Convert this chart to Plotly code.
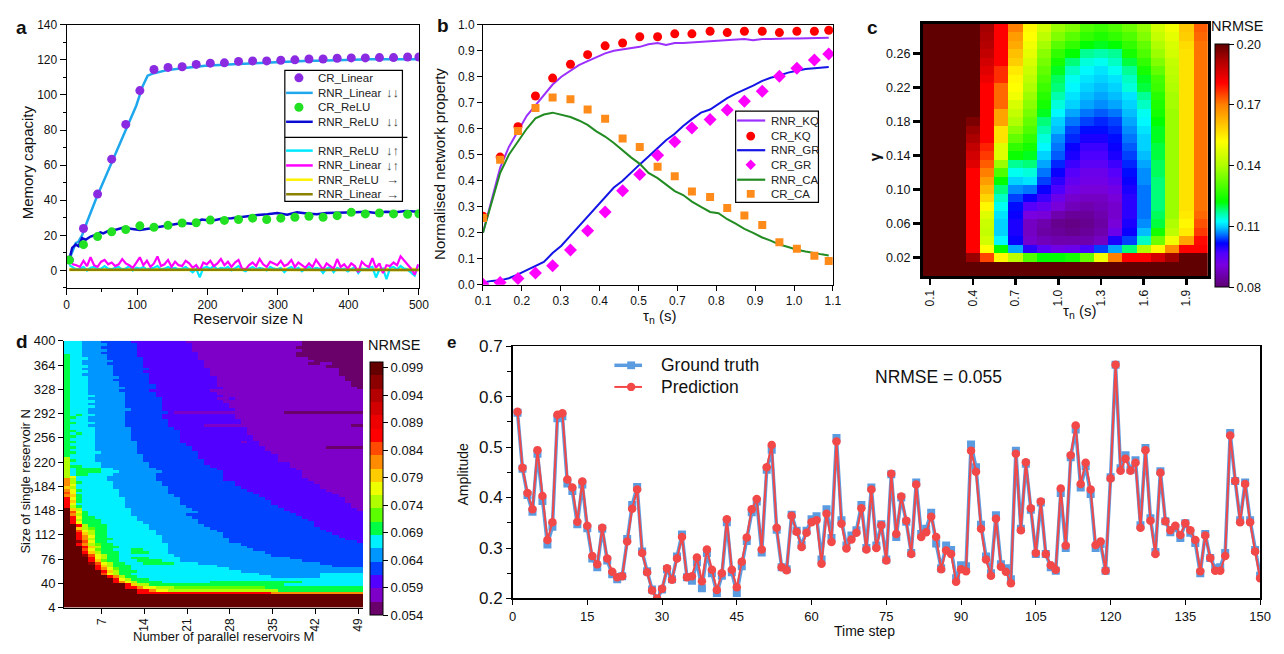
import plotly.graph_objects as go

# The page body keeps its default 8px margin, so the figure is drawn 16px smaller
# and all reference pixel positions are shifted by that margin.
OFF = 8
W, H = 1284 - 2 * OFF, 654 - 2 * OFF
def PX(x): return (x - OFF) / W
def PY(y): return 1 - (y - OFF) / H

FONT = "Liberation Sans, Arial, Helvetica, sans-serif"

# ---------------- Panel a data ----------------
N_cr = [4, 24, 44, 64, 84, 104, 124, 144, 164, 184, 204, 224, 244, 264, 284, 304, 324, 344, 364, 384, 404, 424, 444, 464, 484, 500]
mc_cr_linear = [6.0, 23.9, 43.5, 63.4, 83.2, 102.5, 114.5, 115.7, 116.1, 117.4, 118.1, 118.3, 119.1, 119.4, 119.4, 119.8, 120.0, 120.5, 120.5, 120.9, 121.1, 121.1, 121.3, 121.3, 121.6, 121.6]
mc_cr_relu = [5.9, 14.7, 19.3, 22.0, 23.3, 25.4, 24.6, 25.7, 27.0, 27.2, 28.7, 28.5, 29.0, 29.8, 29.0, 29.8, 30.3, 30.9, 30.3, 31.2, 33.1, 32.2, 32.7, 32.2, 32.0, 32.3]
N_rnr_lin = [4, 8, 13, 17, 22, 29, 43, 57, 71, 85, 99, 108, 115, 124, 141, 164, 197, 243, 290, 337, 383, 430, 500]
mc_rnr_linear = [6.4, 11.0, 15.6, 16.5, 20.0, 27.6, 42.0, 55.0, 68.0, 81.0, 94.0, 105.0, 111.0, 112.4, 114.0, 115.2, 116.7, 117.6, 118.5, 119.4, 119.8, 120.3, 120.3]
N_rnr_relu = [4, 8, 13, 17, 22, 27, 34, 41, 48, 52, 62, 71, 80, 90, 104, 118, 132, 150, 164, 178, 192, 206, 220, 234, 243, 257, 271, 285, 299, 313, 327, 341, 355, 369, 383, 397, 411, 425, 439, 453, 467, 481, 500]
mc_rnr_relu = [6.4, 12.9, 14.7, 13.8, 18.4, 17.5, 19.3, 20.2, 21.7, 21.1, 23.0, 23.3, 24.3, 23.9, 23.0, 23.9, 24.8, 26.1, 27.0, 26.6, 29.0, 28.3, 29.4, 29.8, 30.3, 30.9, 31.6, 32.0, 32.7, 31.8, 33.1, 32.5, 32.0, 32.7, 32.7, 33.1, 33.1, 33.4, 32.7, 33.4, 33.1, 33.8, 33.4]
N_noise = list(range(4, 500, 5))
mc_rnr_linear_ud = [6.0, 3.5, 3.0, 2.0, 5.5, 2.5, 7.5, 3.0, 2.0, 5.0,
                    6.0, 3.5, 4.5, 2.5, 3.5, 6.5, 4.0, 3.0, 1.5, 4.5,
                    7.5, 3.0, 5.5, 2.0, 4.0, 8.0, 2.5, 3.5, 6.0, 2.0,
                    5.0, 3.0, 2.5, 5.5, 4.0, 1.5, 3.0, 0.0, 4.5, 3.5,
                    5.5, 2.5, 4.0, 6.5, 3.0, 5.0, 2.0, 4.5, 6.0, 1.0,
                    0.5, 3.0, 4.5, 2.5, 6.5, 3.5, 2.0, 5.0, 4.0, 3.0,
                    5.5, 2.5, 3.5, 6.0, 2.0, 4.5, 3.0, 1.5, 4.0, 2.0,
                    6.0, 3.0, 0.5, 4.0, 2.5, 1.0, 6.5, 2.0, 3.5, 1.0,
                    4.0, 2.5, -1.0, 5.0, 3.0, 2.0, 7.0, 1.5, 4.0, -1.5,
                    3.0, 2.5, 4.5, 3.0, 8.0, 5.5, 3.0, 1.0, -2.5, 3.5]
mc_rnr_relu_ud = [3.0, 1.5, 0.5, 1.0, 2.0, 0.0, 1.5, 2.0, 0.5, 1.0,
                  2.5, 1.0, 0.5, 1.5, 2.0, 0.5, 1.0, 2.5, 0.0, 1.5,
                  1.0, 2.0, 0.5, 1.0, 1.5, 2.5, 0.5, 1.0, 2.0, 1.0,
                  1.5, 0.5, 1.0, 2.0, 0.5, -1.0, 1.0, -4.0, 1.5, 2.0,
                  1.0, 2.5, 0.5, 1.5, 1.0, 2.0, 0.0, 1.5, 2.5, 0.5,
                  -0.5, 1.0, 2.0, 0.5, 1.5, 1.0, 0.0, 2.0, 1.0, 0.5,
                  1.5, -1.0, 1.0, 2.0, 0.5, 1.5, -0.5, 1.0, 2.0, 0.5,
                  1.5, 1.0, -1.5, 1.0, 2.0, -1.0, 1.5, 0.5, 1.0, -0.5,
                  1.0, 2.0, -1.5, 1.0, 0.5, 1.5, 2.0, -4.0, 0.5, 1.0,
                  -5.0, 1.5, 2.0, 0.5, 2.5, 1.0, 0.5, -1.0, -3.0, 3.0]
N_flat = [4, 100, 200, 300, 400, 500]
mc_rnr_relu_flat = [0.6, 0.5, 0.5, 0.5, 0.5, 0.5]
mc_rnr_linear_flat = [0.4, 0.3, 0.3, 0.3, 0.3, 0.3]

# ---------------- Panel b data ----------------
tau_b_ticktext = ["0.1", "0.2", "0.3", "0.4", "0.5", "0.7", "0.8", "0.9", "1.0", "1.1"]
tau_cr = [0.100, 0.149, 0.200, 0.250, 0.299, 0.350, 0.399, 0.449, 0.499, 0.548, 0.599, 0.648, 0.697, 0.749, 0.798, 0.847, 0.898, 0.947, 0.997, 1.047, 1.088]
cr_kq = [0.264, 0.491, 0.608, 0.726, 0.795, 0.848, 0.885, 0.919, 0.930, 0.954, 0.954, 0.965, 0.965, 0.975, 0.970, 0.975, 0.975, 0.970, 0.975, 0.975, 0.979]
cr_ca = [0.257, 0.481, 0.591, 0.680, 0.720, 0.714, 0.674, 0.639, 0.563, 0.530, 0.454, 0.417, 0.359, 0.338, 0.295, 0.266, 0.230, 0.164, 0.139, 0.112, 0.091]
cr_gr = [0.002, 0.009, 0.024, 0.045, 0.073, 0.134, 0.208, 0.280, 0.362, 0.424, 0.498, 0.550, 0.603, 0.636, 0.672, 0.706, 0.744, 0.802, 0.833, 0.864, 0.888]
tau_rnr = [0.100, 0.125, 0.149, 0.174, 0.200, 0.225, 0.250, 0.274, 0.299, 0.324, 0.350, 0.374, 0.399, 0.424, 0.449, 0.474, 0.499, 0.523, 0.548, 0.573, 0.599, 0.623, 0.648, 0.672, 0.697, 0.723, 0.749, 0.773, 0.798, 0.822, 0.847, 0.872, 0.898, 0.922, 0.947, 0.972, 0.997, 1.022, 1.047, 1.068, 1.088]
rnr_kq = [0.20, 0.33, 0.45, 0.53, 0.59, 0.65, 0.69, 0.73, 0.77, 0.80, 0.825, 0.845, 0.86, 0.875, 0.89, 0.90, 0.905, 0.91, 0.915, 0.925, 0.93, 0.922, 0.93, 0.93, 0.932, 0.935, 0.937, 0.94, 0.94, 0.943, 0.945, 0.94, 0.945, 0.945, 0.947, 0.947, 0.947, 0.948, 0.948, 0.948, 0.95]
rnr_gr = [0.009, 0.015, 0.017, 0.025, 0.040, 0.057, 0.071, 0.088, 0.122, 0.150, 0.189, 0.225, 0.264, 0.301, 0.338, 0.374, 0.400, 0.432, 0.463, 0.493, 0.525, 0.556, 0.581, 0.611, 0.637, 0.662, 0.674, 0.695, 0.718, 0.735, 0.749, 0.766, 0.784, 0.796, 0.805, 0.816, 0.823, 0.830, 0.833, 0.836, 0.838]
rnr_ca = [0.20, 0.32, 0.43, 0.50, 0.55, 0.60, 0.64, 0.655, 0.662, 0.655, 0.645, 0.632, 0.615, 0.59, 0.57, 0.545, 0.515, 0.49, 0.465, 0.43, 0.41, 0.385, 0.36, 0.345, 0.32, 0.30, 0.28, 0.275, 0.252, 0.235, 0.215, 0.20, 0.182, 0.17, 0.155, 0.145, 0.135, 0.128, 0.121, 0.117, 0.113]

# ---------------- Panel c data ----------------
tau_c = [0.1, 0.2, 0.3, 0.4, 0.5, 0.6, 0.7, 0.8, 0.9, 1.0, 1.1, 1.2, 1.3, 1.4, 1.5, 1.6, 1.7, 1.8, 1.9, 2.0]
gamma_c = [0.29, 0.28, 0.27, 0.26, 0.25, 0.24, 0.23, 0.22, 0.21, 0.20, 0.19, 0.18, 0.17, 0.16, 0.15,
           0.14, 0.13, 0.12, 0.11, 0.10, 0.09, 0.08, 0.07, 0.06, 0.05, 0.04, 0.03, 0.02, 0.01, 0.00]
# one list per tau column, rows from gamma 0.29 down to 0.00
nrmse_c_cols = [
    [.205, .205, .205, .205, .205, .205, .205, .205, .205, .205, .205, .205, .205, .205, .205, .205, .205, .205, .205, .205, .205, .205, .205, .205, .205, .205, .205, .205, .205, .205],
    [.205, .205, .205, .205, .205, .205, .205, .205, .205, .205, .205, .205, .205, .205, .205, .205, .205, .205, .205, .205, .205, .205, .205, .205, .205, .205, .205, .205, .205, .205],
    [.205, .205, .205, .205, .205, .205, .205, .205, .205, .205, .205, .205, .205, .205, .205, .205, .205, .205, .205, .205, .205, .205, .205, .205, .205, .205, .205, .205, .205, .205],
    [.205, .205, .205, .205, .205, .205, .205, .205, .205, .205, .205, .197, .194, .192, .189, .187, .185, .181, .181, .181, .181, .181, .181, .181, .181, .181, .181, .194, .205, .205],
    [.193, .192, .191, .189, .187, .185, .183, .181, .181, .181, .181, .181, .181, .181, .178, .176, .173, .170, .166, .162, .158, .153, .147, .144, .143, .145, .152, .175, .205, .205],
    [.181, .181, .181, .181, .181, .177, .177, .172, .172, .172, .165, .165, .156, .156, .147, .147, .138, .130, .122, .118, .115, .113, .111, .110, .110, .112, .122, .153, .205, .205],
    [.170, .166, .164, .161, .159, .155, .153, .152, .150, .146, .143, .140, .136, .132, .127, .123, .117, .113, .110, .107, .104, .102, .101, .100, .100, .101, .108, .142, .205, .205],
    [.153, .152, .150, .148, .146, .144, .142, .140, .138, .136, .134, .132, .130, .127, .124, .121, .118, .114, .111, .106, .101, .096, .091, .088, .088, .089, .099, .130, .205, .205],
    [.145, .142, .139, .136, .134, .132, .130, .128, .126, .124, .121, .118, .116, .114, .112, .110, .108, .106, .104, .101, .098, .094, .090, .086, .085, .087, .095, .122, .205, .205],
    [.138, .135, .131, .127, .124, .121, .119, .118, .116, .114, .112, .110, .109, .107, .106, .105, .103, .101, .099, .097, .093, .090, .086, .083, .084, .086, .092, .122, .205, .205],
    [.135, .131, .127, .122, .118, .115, .113, .112, .111, .110, .108, .106, .104, .103, .101, .100, .098, .096, .094, .092, .089, .087, .084, .082, .083, .086, .093, .124, .205, .205],
    [.130, .127, .122, .117, .114, .112, .111, .110, .109, .108, .106, .104, .102, .100, .098, .097, .095, .093, .092, .090, .088, .086, .084, .083, .084, .086, .097, .132, .205, .205],
    [.128, .125, .121, .116, .113, .111, .110, .109, .108, .107, .105, .103, .102, .100, .098, .097, .095, .093, .092, .090, .088, .087, .086, .085, .086, .088, .104, .150, .205, .205],
    [.130, .127, .122, .117, .115, .113, .111, .110, .109, .108, .106, .104, .103, .102, .101, .100, .098, .096, .094, .092, .090, .089, .089, .090, .093, .100, .108, .170, .205, .205],
    [.133, .130, .127, .124, .120, .117, .115, .114, .111, .110, .109, .108, .107, .106, .105, .104, .103, .102, .101, .100, .099, .099, .099, .100, .101, .104, .118, .181, .205, .205],
    [.137, .135, .132, .130, .127, .124, .121, .120, .117, .115, .113, .112, .111, .110, .110, .109, .108, .107, .107, .106, .106, .106, .106, .107, .109, .115, .140, .181, .205, .205],
    [.145, .143, .140, .138, .135, .132, .129, .128, .126, .125, .124, .122, .121, .121, .120, .120, .119, .119, .118, .118, .118, .118, .119, .120, .124, .133, .153, .187, .205, .205],
    [.150, .148, .146, .145, .143, .142, .141, .140, .139, .139, .138, .138, .138, .138, .138, .138, .138, .138, .138, .138, .138, .138, .138, .140, .142, .150, .168, .193, .205, .205],
    [.160, .159, .157, .156, .156, .156, .156, .156, .156, .156, .156, .156, .156, .156, .156, .156, .156, .156, .156, .156, .156, .156, .155, .153, .155, .165, .181, .200, .205, .205],
    [.173, .172, .171, .171, .171, .171, .171, .171, .171, .171, .171, .171, .171, .171, .171, .171, .171, .171, .171, .171, .171, .171, .172, .174, .176, .180, .181, .200, .205, .205],
]
c_ticks = [0.08, 0.11, 0.14, 0.17, 0.20]

# ---------------- Panel d data ----------------
# NRMSE level bands, run-length encoded along M = 1..49 for each reservoir size N (row start)
d_levels = "DPVBACGgYyOorRSTUWM"   # 19 bands from 0.054 (D) up to 0.100 (M)
d_rows = {
    396: "C3 A3 B5 V9 P19 D10", 392: "C3 A4 B5 V9 P18 D10", 388: "C3 A3 B6 V9 P17 D11",
    384: "C3 A4 B5 V9 P18 D10", 380: "C3 A3 B6 V10 P16 D11", 376: "G1 C2 A4 B5 V10 P16 D11",
    372: "G1 C3 A3 B6 V9 P18 D9", 368: "G1 C2 A5 B5 V10 P18 D8", 364: "G1 C2 A4 B6 V10 P17 D2 P2 D5",
    360: "G1 C3 A4 B5 V10 P20 D6", 356: "G1 C2 A5 B6 V10 P21 D4", 352: "G1 C3 A4 B5 V11 P21 D4",
    348: "G1 C2 A5 B6 V10 P21 D4", 344: "G1 C3 A5 B5 V11 P21 D3", 340: "G1 C3 A4 B6 V11 P21 D3",
    336: "G1 C3 A5 B5 V11 P22 D2", 332: "G1 C3 A5 B6 V10 P22 D2", 328: "G1 C3 A6 B5 V11 P22 D1",
    324: "G1 C3 A5 B5 V10 P25", 320: "G1 C3 A6 B5 V10 P24", 316: "G1 C4 A5 B5 V11 P23",
    312: "G1 C3 A6 B6 V9 P2 V1 P21", 308: "G1 C4 A5 B6 V10 P23", 304: "G1 C3 A6 B6 V11 P22",
    300: "G1 C4 A5 B6 V11 P22", 296: "G1 C3 A7 B5 V12 P21", 292: "G1 C3 A6 B7 V1 P18 D13",
    288: "G1 C1 G1 C2 A5 B6 V12 P21", 284: "G2 C2 A6 B6 V12 P21", 280: "G1 C3 A6 B7 V12 P20",
    276: "G2 C3 A5 B7 V12 P20", 272: "G1 C3 A6 B7 V6 P24 D2", 268: "G1 C4 A6 B7 V12 P19",
    264: "G2 C3 A6 B8 V11 P19", 260: "G1 C1 G1 C2 A6 B8 V11 P19", 256: "G2 C3 A6 B8 V12 P18",
    252: "G1 C4 A6 B8 V12 P18", 248: "G2 C3 A7 B7 V10 P1 V2 P17", 244: "G1 C4 A7 B8 V12 P17",
    240: "G2 C3 A7 B9 V12 P10 D6", 236: "G1 C4 A7 B9 V12 P16", 232: "G2 C4 A6 B10 V12 P15",
    228: "G1 C4 A8 B9 V13 P14", 224: "Y1 C4 A8 B9 V13 P14", 220: "Y1 G1 C3 A8 B10 V12 P14",
    216: "Y1 C5 A8 B9 V14 P12", 212: "Y1 G2 C3 A8 B10 V13 P12", 208: "Y1 C1 G4 C2 A7 B10 V13 P11",
    204: "Y1 C1 G4 C3 A7 B10 V13 P10", 200: "Y1 C1 G2 C4 A7 B11 V13 P10", 196: "Y1 y1 C5 A8 B11 V13 P10",
    192: "o1 Y1 C5 A8 B11 V14 P9", 188: "o1 Y1 G1 C5 A8 B12 V13 P8", 184: "o1 y1 C6 A8 B12 V14 P7",
    180: "O1 Y1 C6 A9 B12 V13 P7", 176: "o1 y1 G1 C6 A8 B13 V13 P6", 172: "r1 y1 C7 A8 B14 V13 P5",
    168: "o1 O1 G1 C6 A9 B14 V13 P4", 164: "R1 y1 G1 C7 A9 B14 V13 P3", 160: "R1 O1 G1 C7 A9 B15 V12 P3",
    156: "R1 y1 C8 A9 B15 V13 P2", 152: "R1 Y1 G1 C7 A10 B15 V12 P2", 148: "M1 O1 Y1 C8 A10 B15 V12 P1",
    144: "M1 r1 y1 G1 C7 A11 B15 V12", 140: "M1 o1 Y1 G1 C7 A9 B18 V11", 136: "M1 R1 y1 G2 C7 A9 B18 V10",
    132: "M1 R1 Y1 G3 C6 A10 B18 V9", 128: "M1 R1 y1 G3 C7 A9 B19 V8", 124: "M2 R1 Y1 G3 C7 A9 B18 V8",
    120: "M2 O1 Y1 g1 G2 C7 A10 B18 V7", 116: "M2 r1 y1 Y1 G2 C8 A10 B18 V6", 112: "M2 R1 O1 Y1 G2 C8 A11 B18 V5",
    108: "M2 R1 o1 y1 G2 C9 A10 B19 V4", 104: "M2 R1 o1 Y1 G3 C8 A11 B19 V3", 100: "M2 W1 r1 y1 G2 C9 A11 B21 V1",
    96: "M2 R1 o1 Y1 g1 G2 C9 A12 B20", 92: "M3 R1 O1 Y1 G3 C8 A13 B19", 88: "M3 r1 y1 g1 G2 C3 G2 C4 A14 B18",
    84: "M3 R1 O1 Y1 G3 C2 G3 C3 A16 B16", 80: "M3 W1 r1 y1 Y1 G2 C9 A16 B15", 76: "M4 R1 y1 Y1 G2 C2 G3 C5 A18 B12",
    72: "M4 R1 O1 g1 G2 C3 G4 C3 A20 B10", 68: "M4 W1 r1 y1 Y1 G2 C3 G5 C4 A20 B7", 64: "M5 R1 O1 Y1 G3 C14 A19 B5",
    60: "M5 R1 o1 y1 g1 G2 C16 A22", 56: "M6 R1 O1 Y1 G3 C17 A20", 52: "M6 r1 y1 Y1 G2 C21 A10 C7",
    48: "M7 R1 o1 Y1 G2 C22 A8 C7", 44: "M8 R1 y1 Y1 G3 C35", 40: "M8 R1 o1 y1 Y1 G4 C8 G15 C10",
    36: "M10 R1 O1 Y2 G22 C13", 32: "M10 R2 o1 y2 Y3 g15 G16", 28: "M12 R2 o1 y2 Y18 G14",
    24: "M12 R22 o15", 20: "M49", 16: "M49", 12: "M49", 8: "M49", 4: "M49",
}
d_colors = ["#6a006a", "#7e00c8", "#5200ff", "#0042ff", "#0096ff", "#00f0ff", "#00ff44", "#5cff00",
            "#b0ff00", "#eeff00", "#ffcc00", "#ff8c00", "#ff4a00", "#ff0000", "#ee0000", "#d20000",
            "#b40000", "#8c0000", "#640000"]
d_ticks = [0.054, 0.059, 0.064, 0.069, 0.074, 0.079, 0.084, 0.089, 0.094, 0.099]
d_zmin, d_zmax = 0.054, 0.100

# ---------------- Panel e data ----------------
t_e = list(range(1, 151))
pred_e = [0.570, 0.459, 0.409, 0.377, 0.494, 0.403, 0.316, 0.351, 0.564, 0.567,
          0.436, 0.420, 0.352, 0.432, 0.344, 0.284, 0.268, 0.340, 0.279, 0.253,
          0.242, 0.244, 0.313, 0.378, 0.416, 0.290, 0.252, 0.216, 0.200, 0.219,
          0.260, 0.237, 0.279, 0.322, 0.242, 0.244, 0.281, 0.234, 0.297, 0.257,
          0.217, 0.250, 0.357, 0.257, 0.222, 0.273, 0.321, 0.377, 0.397, 0.297,
          0.460, 0.504, 0.340, 0.262, 0.256, 0.364, 0.332, 0.302, 0.330, 0.351,
          0.355, 0.269, 0.368, 0.312, 0.511, 0.348, 0.299, 0.317, 0.330, 0.379,
          0.297, 0.416, 0.300, 0.345, 0.275, 0.447, 0.328, 0.402, 0.354, 0.288,
          0.426, 0.322, 0.331, 0.362, 0.322, 0.258, 0.295, 0.288, 0.233, 0.258,
          0.254, 0.493, 0.451, 0.338, 0.277, 0.245, 0.358, 0.263, 0.253, 0.230,
          0.487, 0.335, 0.470, 0.379, 0.290, 0.392, 0.288, 0.266, 0.257, 0.418,
          0.305, 0.484, 0.543, 0.427, 0.469, 0.416, 0.306, 0.313, 0.255, 0.438,
          0.663, 0.453, 0.477, 0.453, 0.469, 0.340, 0.494, 0.354, 0.288, 0.449,
          0.353, 0.335, 0.344, 0.326, 0.349, 0.335, 0.316, 0.254, 0.325, 0.280,
          0.255, 0.255, 0.284, 0.523, 0.433, 0.351, 0.427, 0.351, 0.293, 0.240]
truth_e = [0.568, 0.457, 0.405, 0.372, 0.487, 0.393, 0.307, 0.342, 0.557, 0.561,
           0.428, 0.413, 0.347, 0.426, 0.339, 0.279, 0.262, 0.338, 0.275, 0.248,
           0.238, 0.244, 0.318, 0.385, 0.421, 0.293, 0.254, 0.218, 0.198, 0.218,
           0.258, 0.238, 0.283, 0.327, 0.242, 0.235, 0.272, 0.220, 0.290, 0.250,
           0.211, 0.245, 0.351, 0.252, 0.211, 0.264, 0.314, 0.371, 0.392, 0.291,
           0.455, 0.495, 0.336, 0.262, 0.258, 0.366, 0.334, 0.306, 0.334, 0.357,
           0.363, 0.277, 0.377, 0.320, 0.518, 0.355, 0.305, 0.325, 0.335, 0.385,
           0.300, 0.420, 0.305, 0.347, 0.277, 0.446, 0.322, 0.400, 0.352, 0.290,
           0.430, 0.328, 0.338, 0.370, 0.309, 0.260, 0.305, 0.296, 0.240, 0.266,
           0.264, 0.505, 0.460, 0.346, 0.283, 0.250, 0.365, 0.268, 0.260, 0.238,
           0.493, 0.338, 0.467, 0.376, 0.288, 0.390, 0.288, 0.262, 0.255, 0.409,
           0.300, 0.480, 0.535, 0.420, 0.462, 0.407, 0.300, 0.308, 0.255, 0.440,
           0.663, 0.458, 0.484, 0.455, 0.474, 0.345, 0.498, 0.359, 0.292, 0.452,
           0.353, 0.331, 0.340, 0.320, 0.349, 0.330, 0.310, 0.250, 0.328, 0.280,
           0.260, 0.262, 0.290, 0.528, 0.433, 0.355, 0.430, 0.355, 0.296, 0.245]

# ======================================================================
fig = go.Figure()

# ---- panel a
def add_a(x, y, **kw):
    fig.add_trace(go.Scatter(x=x, y=y, xaxis="x", yaxis="y", showlegend=False, **kw))

add_a(N_flat, mc_rnr_relu_flat, mode="lines", line=dict(color="#fff200", width=3.5))
add_a(N_noise, mc_rnr_relu_ud, mode="lines", line=dict(color="#00e8ff", width=2.2))
add_a(N_noise, mc_rnr_linear_ud, mode="lines", line=dict(color="#ff00ff", width=2.2))
add_a(N_flat, mc_rnr_linear_flat, mode="lines", line=dict(color="#8c8200", width=2.5))
add_a(N_rnr_lin, mc_rnr_linear, mode="lines", line=dict(color="#1ea7ec", width=2.5))
add_a(N_rnr_relu, mc_rnr_relu, mode="lines", line=dict(color="#0a0ad2", width=2.5))
add_a(N_cr, mc_cr_linear, mode="markers", marker=dict(color="#8a2be2", size=9))
add_a(N_cr, mc_cr_relu, mode="markers", marker=dict(color="#22e022", size=9))

# ---- panel b
def add_b(x, y, **kw):
    fig.add_trace(go.Scatter(x=x, y=y, xaxis="x2", yaxis="y2", showlegend=False, **kw))

add_b(tau_rnr, rnr_kq, mode="lines", line=dict(color="#9b30ff", width=2))
add_b(tau_rnr, rnr_gr, mode="lines", line=dict(color="#1414e6", width=2))
add_b(tau_rnr, rnr_ca, mode="lines", line=dict(color="#228b22", width=2))
add_b(tau_cr, cr_kq, mode="markers", marker=dict(color="#ff0000", size=9))
add_b(tau_cr, cr_gr, mode="markers", marker=dict(color="#ff00ff", size=10, symbol="diamond"))
add_b(tau_cr, cr_ca, mode="markers", marker=dict(color="#ff8c1a", size=8, symbol="square"))

# ---- panel c
z_c = [list(r) for r in zip(*nrmse_c_cols)]
c_scale = [[0.0, "#5e0070"], [0.09, "#7a00e0"], [0.14, "#5000ff"], [0.18, "#0000ff"],
           [0.215, "#0070ff"], [0.245, "#00c8ff"], [0.27, "#00ffff"], [0.31, "#00ff90"], [0.35, "#00ff00"],
           [0.50, "#b0ff00"], [0.60, "#ffff00"], [0.75, "#ff8000"], [0.84, "#ff0000"],
           [0.93, "#b00000"], [1.0, "#600000"]]
fig.add_trace(go.Heatmap(
    x=tau_c, y=gamma_c, z=z_c, xaxis="x3", yaxis="y3", zmin=0.08, zmax=0.20,
    colorscale=c_scale, showscale=True,
    colorbar=dict(x=PX(1224), xanchor="left", y=PY(36), yanchor="top",
                  len=243, lenmode="pixels", thickness=14, xpad=0, ypad=0,
                  outlinewidth=1, outlinecolor="black", ticks="outside", ticklen=5,
                  tickcolor="black", tickvals=c_ticks, ticktext=["%.2f" % v for v in c_ticks],
                  tickfont=dict(family=FONT, size=12.5, color="#111"))))

# ---- panel d
lev_index = {ch: i for i, ch in enumerate(d_levels)}
band = (d_zmax - d_zmin) / len(d_levels)
N_rows = sorted(d_rows.keys())
z_d = []
for n in N_rows:
    row = []
    for tok in d_rows[n].split():
        row += [lev_index[tok[0]]] * int(tok[1:])
    row = (row + [row[-1]] * 49)[:49]
    z_d.append([d_zmin + (i + 0.5) * band for i in row])
d_scale = []
for i, col in enumerate(d_colors):
    d_scale.append([i / len(d_colors), col])
    d_scale.append([(i + 1) / len(d_colors), col])
fig.add_trace(go.Heatmap(
    z=z_d, x0=1.3, dx=1, y0=N_rows[0] + 2, dy=4, xaxis="x4", yaxis="y4",
    zmin=d_zmin, zmax=d_zmax, colorscale=d_scale, showscale=True,
    colorbar=dict(x=PX(367.3), xanchor="left", y=PY(364), yanchor="top",
                  len=253, lenmode="pixels", thickness=13, xpad=0, ypad=0,
                  outlinewidth=1, outlinecolor="black", ticks="outside", ticklen=5,
                  tickcolor="black", tickvals=d_ticks, ticktext=["%.3f" % v for v in d_ticks],
                  tickfont=dict(family=FONT, size=13, color="#111"))))

# ---- panel e
fig.add_trace(go.Scatter(x=t_e, y=truth_e, xaxis="x5", yaxis="y5", mode="lines+markers", showlegend=False,
                         line=dict(color="#5b9be0", width=3.5),
                         marker=dict(symbol="square", size=8, color="#5b9be0")))
fig.add_trace(go.Scatter(x=t_e, y=pred_e, xaxis="x5", yaxis="y5", mode="lines+markers", showlegend=False,
                         line=dict(color="#f24848", width=2),
                         marker=dict(symbol="circle", size=8.5, color="#f24848")))

# ======================================================================
tickfont = dict(family=FONT, size=12, color="#111")
base_ax = dict(showgrid=False, zeroline=False, showline=True, linecolor="black", linewidth=1,
               ticks="outside", tickcolor="black", tickfont=tickfont)

fig.update_layout(
    width=W, height=H, margin=dict(l=0, r=0, t=0, b=0), autosize=False,
    paper_bgcolor="white", plot_bgcolor="white", showlegend=False, hovermode=False,
    font=dict(family=FONT, color="#111"),
    xaxis=dict(base_ax, domain=[PX(59.3), PX(416.7)], range=[0, 500], anchor="y", mirror=True,
               tickvals=[0, 100, 200, 300, 400, 500], ticklen=6,
               minor=dict(dtick=50, ticks="outside", ticklen=3, tickcolor="black")),
    yaxis=dict(base_ax, domain=[PY(287.3), PY(16)], range=[-10, 140], anchor="x", mirror=True,
               tickvals=[0, 20, 40, 60, 80, 100, 120, 140], ticklen=6,
               minor=dict(dtick=10, ticks="outside", ticklen=3, tickcolor="black")),
    xaxis2=dict(base_ax, domain=[PX(481.7), PX(836.7)], range=[0.1, 1.1], anchor="y2", mirror=True,
                tickvals=[0.1 + k / 9 for k in range(10)], ticktext=tau_b_ticktext, ticklen=5),
    yaxis2=dict(base_ax, domain=[PY(284), PY(16)], range=[0, 1.0], anchor="x2", mirror=True,
                tickvals=[0, 0.1, 0.2, 0.3, 0.4, 0.5, 0.6, 0.7, 0.8, 0.9, 1.0], tickformat=".1f", ticklen=5),
    xaxis3=dict(base_ax, domain=[PX(928), PX(1217)], range=[0.05, 2.05], anchor="y3", mirror=True,
                linewidth=3, tickwidth=2.5, ticklen=6, tickangle=-90,
                tickvals=[0.1, 0.4, 0.7, 1.0, 1.3, 1.6, 1.9], ticktext=["0.1", "0.4", "0.7", "1.0", "1.3", "1.6", "1.9"],
                tickfont=dict(family=FONT, size=12, color="#111")),
    yaxis3=dict(base_ax, domain=[PY(275), PY(15)], range=[-0.002, 0.295], anchor="x3", mirror=True,
                linewidth=3, tickwidth=2.5, ticklen=7,
                tickvals=[0.02, 0.06, 0.10, 0.14, 0.18, 0.22, 0.26], tickformat=".2f",
                tickfont=dict(family=FONT, size=12.5, color="#111")),
    xaxis4=dict(base_ax, domain=[PX(56.7), PX(360)], range=[0.8, 49.8], anchor="y4",
                tickvals=[7, 14, 21, 28, 35, 42, 49], tickangle=-90, ticklen=5,
                tickfont=dict(family=FONT, size=12, color="#111")),
    yaxis4=dict(base_ax, domain=[PY(616.7), PY(341.7)], range=[4, 400], anchor="x4",
                tickvals=[4, 40, 76, 112, 148, 184, 220, 256, 292, 328, 364, 400], ticklen=5,
                tickfont=dict(family=FONT, size=13, color="#111")),
    xaxis5=dict(base_ax, domain=[PX(511.7), PX(1270)], range=[0, 150], anchor="y5", mirror=True,
                linewidth=1.5, tickvals=list(range(0, 151, 15)), ticklen=5,
                tickfont=dict(family=FONT, size=13, color="#111")),
    yaxis5=dict(base_ax, domain=[PY(607.3), PY(347.3)], range=[0.2, 0.7], anchor="x5", mirror=True,
                linewidth=1.5, tickvals=[0.2, 0.3, 0.4, 0.5, 0.6, 0.7], tickformat=".1f", ticklen=5,
                minor=dict(dtick=0.05, ticks="outside", ticklen=4, tickcolor="black"),
                tickfont=dict(family=FONT, size=17, color="#111")),
)

# ---------------- annotations (titles, labels, legends) ----------------
ann = []
def text(x, y, s, size=12, bold=False, angle=0, xanchor="center", color="#111"):
    if bold:
        s = "<b>" + s + "</b>"
    ann.append(dict(x=PX(x), y=PY(y), xref="paper", yref="paper", text=s, showarrow=False,
                    xanchor=xanchor, yanchor="middle", textangle=angle,
                    font=dict(family=FONT, size=size, color=color)))

text(14, 19, "a", 19, bold=True)
text(441, 17, "b", 19, bold=True)
text(877, 19, "c", 19, bold=True)
text(14, 342, "d", 19, bold=True)
text(450, 344, "e", 17, bold=True)

text(20, 158, "Memory capacity", 15, angle=-90)
text(243, 319, "Reservoir size N", 15)
text(438, 159.5, "Normalised network property", 15, angle=-90)
text(660.5, 317, "τ<sub>n</sub> (s)", 15)
text(879, 152, "γ", 15, bold=True, angle=-90)
text(1086.7, 312, "τ<sub>n</sub> (s)", 15)
text(1247, 17.5, "NRMSE", 14.5)
text(18, 486, "Size of single reservoir N", 13, angle=-90)
text(218, 646, "Number of parallel reservoirs M", 13)
text(391.7, 346, "NRMSE", 14.5)
text(461, 480, "Amplitude", 14, angle=-90)
text(869, 641, "Time step", 14)
text(944, 379, "NRMSE = 0.055", 17.5)

shapes = []
def hline(x0, x1, y, color, width):
    shapes.append(dict(type="line", xref="paper", yref="paper", x0=PX(x0), x1=PX(x1), y0=PY(y), y1=PY(y),
                       line=dict(color=color, width=width)))
def circle(cx, cy, r, color):
    shapes.append(dict(type="circle", xref="paper", yref="paper", x0=PX(cx - r), x1=PX(cx + r),
                       y0=PY(cy + r), y1=PY(cy - r), fillcolor=color, line=dict(width=0)))
def square(cx, cy, r, color):
    shapes.append(dict(type="rect", xref="paper", yref="paper", x0=PX(cx - r), x1=PX(cx + r),
                       y0=PY(cy + r), y1=PY(cy - r), fillcolor=color, line=dict(width=0)))
def diamond(cx, cy, r, color):
    path = "M %f %f L %f %f L %f %f L %f %f Z" % (PX(cx), PY(cy - r), PX(cx + r), PY(cy), PX(cx), PY(cy + r), PX(cx - r), PY(cy))
    shapes.append(dict(type="path", xref="paper", yref="paper", path=path, fillcolor=color, line=dict(width=0)))
def box(x0, y0, x1, y1):
    shapes.append(dict(type="rect", xref="paper", yref="paper", x0=PX(x0), x1=PX(x1), y0=PY(y1), y1=PY(y0),
                       line=dict(color="black", width=1.2), fillcolor="rgba(255,255,255,1)", layer="above"))

# legend a
box(280.7, 63, 400, 198)
hline(280.7, 405, 132, "black", 1.2)
leg_a = [(70.7, "CR_Linear", "dot", "#8a2be2", ""),
         (86.2, "RNR_Linear", "line", "#1ea7ec", "↓↓"),
         (101, "CR_ReLU", "dot", "#22e022", ""),
         (116, "RNR_ReLU", "line", "#0a0ad2", "↓↓"),
         (145.7, "RNR_ReLU", "line", "#00e8ff", "↓↑"),
         (161, "RNR_Linear", "line", "#ff00ff", "↓↑"),
         (175.7, "RNR_ReLU", "line", "#fff200", "→"),
         (190.7, "RNR_Linear", "line", "#8c8200", "→")]
for y, name, kind, col, arrow in leg_a:
    if kind == "dot":
        circle(295, y, 4.6, col)
    else:
        hline(282, 309, y, col, 2.5)
    text(312.7, y, name, 11.5, xanchor="left", color="#222")
    if arrow:
        text(399, y, arrow, 13, xanchor="right", color="#444")

# legend b
box(738, 105, 822, 199)
leg_b = [(114.7, "RNR_KQ", "line", "#9b30ff"), (130.7, "CR_KQ", "circle", "#ff0000"),
         (145.3, "RNR_GR", "line", "#1414e6"), (160.3, "CR_GR", "diamond", "#ff00ff"),
         (175.7, "RNR_CA", "line", "#228b22"), (190.3, "CR_CA", "square", "#ff8c1a")]
for y, name, kind, col in leg_b:
    if kind == "line":
        hline(739.5, 768, y, col, 2.2)
    elif kind == "circle":
        circle(753.3, y, 4.5, col)
    elif kind == "diamond":
        diamond(753.3, y, 5.3, col)
    else:
        square(753.3, y, 4, col)
    text(771.7, y, name, 11.5, xanchor="left", color="#222")

# legend e
hline(615, 643, 367, "#5b9be0", 3.5)
square(632, 367, 4, "#5b9be0")
hline(615, 643, 389.3, "#f24848", 2)
circle(632, 389.3, 4.3, "#f24848")
text(660, 367, "Ground truth", 17.5, xanchor="left")
text(660, 389.3, "Prediction", 17.5, xanchor="left")

fig.update_layout(annotations=ann, shapes=shapes)
fig.write_html("out.html", config={"displayModeBar": False, "staticPlot": True})
